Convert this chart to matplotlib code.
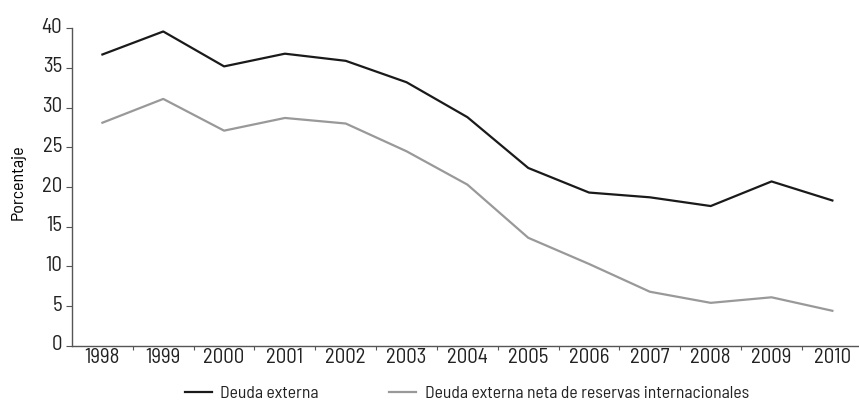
import matplotlib
matplotlib.use("Agg")
import matplotlib.pyplot as plt
from matplotlib.ticker import FixedLocator, NullFormatter, FixedFormatter
from matplotlib.transforms import ScaledTranslation
import numpy as np

years = ["1998", "1999", "2000", "2001", "2002", "2003", "2004",
         "2005", "2006", "2007", "2008", "2009", "2010"]
deuda_externa = [36.7, 39.6, 35.2, 36.8, 35.9, 33.2, 28.8,
                 22.4, 19.3, 18.7, 17.6, 20.7, 18.3]
deuda_neta = [28.1, 31.1, 27.1, 28.7, 28.0, 24.5, 20.3,
              13.6, 10.3, 6.8, 5.4, 6.1, 4.4]
yticks = [0, 5, 10, 15, 20, 25, 30, 35, 40]

plt.rcParams['font.family'] = ['Barlow Semi Condensed', 'DejaVu Sans']
plt.rcParams['font.stretch'] = 'condensed'
plt.rcParams['text.color'] = '#222222'
plt.rcParams['xtick.labelcolor'] = '#222222'
plt.rcParams['ytick.labelcolor'] = '#222222'

W, H = 859, 404
fig = plt.figure(figsize=(W/100, H/100), dpi=100)
step = 60.83
ax = fig.add_axes([72/W, 1-345.7/H, 13*step/W, (345.7-28.3)/H])

x = np.arange(len(years))
ax.plot(x, deuda_externa, color="#1a1a1a", lw=1.6, label="Deuda externa")
ax.plot(x, deuda_neta, color="#999999", lw=1.6,
        label="Deuda externa neta de reservas internacionales")

ax.set_xlim(-0.5, len(years) - 0.5)
ax.set_ylim(0, 40)
ax.set_yticks(yticks)
ax.set_yticklabels([str(t) for t in yticks])

ax.xaxis.set_major_locator(FixedLocator(np.arange(0.5, len(years) - 0.5, 1)))
ax.xaxis.set_major_formatter(NullFormatter())
ax.xaxis.set_minor_locator(FixedLocator(x))
ax.xaxis.set_minor_formatter(FixedFormatter(years))
ax.tick_params(axis='x', which='major', length=3, width=0.8, color="#555555", direction='out')
ax.tick_params(axis='x', which='minor', length=0, labelsize=15, pad=1.5)
ax.tick_params(axis='y', length=4.5, width=0.8, color="#555555", labelsize=15, pad=2.5)

off = ScaledTranslation(0, 3/100, fig.dpi_scale_trans)
for lab in ax.get_yticklabels():
    lab.set_transform(lab.get_transform() + off)

for s in ['top', 'right']:
    ax.spines[s].set_visible(False)
for s in ['left', 'bottom']:
    ax.spines[s].set_color("#555555")
    ax.spines[s].set_linewidth(1.0)

ax.set_ylabel("Porcentaje", fontsize=13)
ax.yaxis.set_label_coords(26/W, 1-182/H, transform=fig.transFigure)

leg = fig.legend(loc='center', bbox_to_anchor=(467/W, 1-393/H), ncol=2,
                 frameon=False, fontsize=12.7, handlelength=1.5,
                 columnspacing=4, handletextpad=0.5)

fig.savefig("out.png", dpi=100)
